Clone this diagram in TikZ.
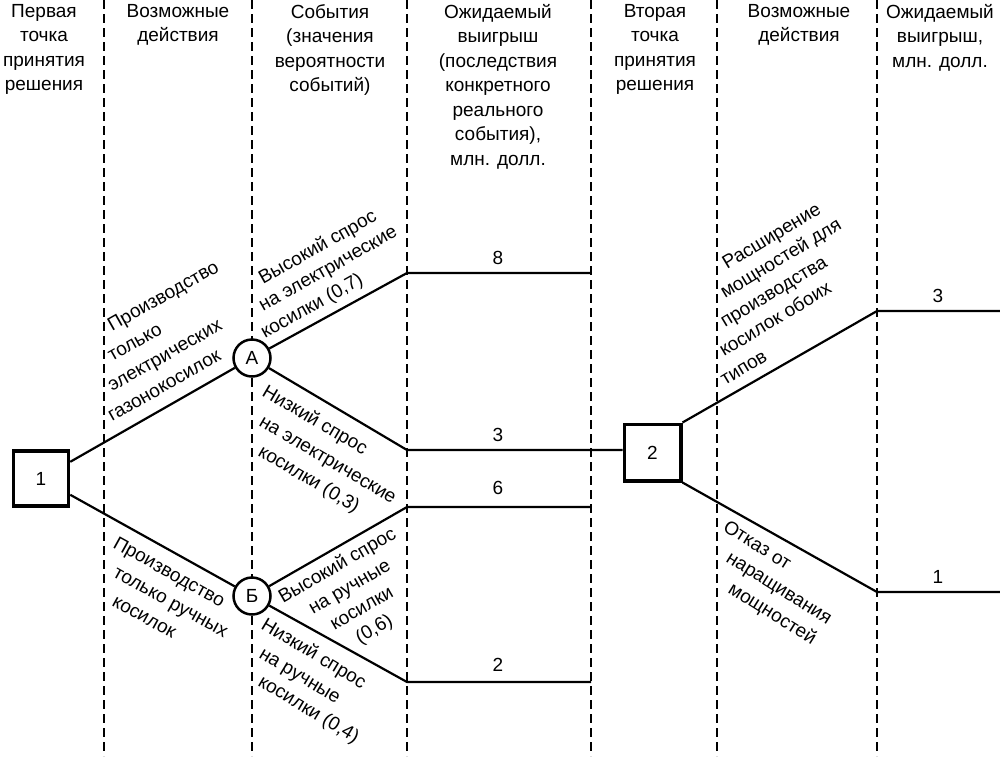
\documentclass[tikz,border=0pt]{standalone}
\usepackage{fontspec}
\setmainfont{Liberation Sans}
\newcommand\hdrfont{\fontsize{19}{24.5}\selectfont}
\tikzset{
  col/.style={line width=2pt, dash pattern=on 9pt off 5pt},
  conn/.style={line width=2.2pt},
  dbox/.style={draw, line width=3.5pt, minimum size=55pt, inner sep=0pt, fill=white, font=\hdrfont},
  chance/.style={draw, circle, line width=2.5pt, minimum size=37pt, inner sep=0pt, fill=white, font=\hdrfont},
  hdr/.style={align=center, anchor=north, inner sep=0pt, font=\hdrfont},
  lbl/.style={inner sep=0pt, font=\hdrfont},
  val/.style={inner sep=0pt, anchor=south, font=\hdrfont}
}
\begin{document}
\begin{tikzpicture}[x=1pt, y=-1pt]
\useasboundingbox (0,0) rectangle (1000,756);
% column separators
\foreach \cx/\nm in {104/c1,252/c2,407/c3,591/c4,717/c5,877/c6}{
  \coordinate (\nm t) at (\cx,0);
  \coordinate (\nm b) at (\cx,756);
  \draw[col] (\nm t) -- (\nm b);
}
% headers
\node[hdr] (h1) at (44,4) {Первая\\точка\\принятия\\решения};
\node[hdr] (h2) at (178,4) {Возможные\\действия};
\node[hdr] (h3) at (330,4) {События\\(значения\\вероятности\\событий)};
\node[hdr] (h4) at (498,4) {Ожидаемый\\выигрыш\\(последствия\\конкретного\\реального\\события),\\млн. долл.};
\node[hdr] (h5) at (655,4) {Вторая\\точка\\принятия\\решения};
\node[hdr] (h6) at (799,4) {Возможные\\действия};
\node[hdr] (h7) at (940,4) {Ожидаемый\\выигрыш,\\млн. долл.};
% nodes
\node[dbox] (n1) at (41,478.5) {1};
\node[chance] (A) at (252,358) {А};
\node[chance] (B) at (252,596) {Б};
\node[dbox, minimum size=56.5pt] (n2) at (652.5,452.5) {2};
% end points
\coordinate (e1) at (407,273);
\coordinate (e1r) at (591,273);
\coordinate (e2) at (407,450);
\coordinate (e3) at (407,507);
\coordinate (e3r) at (591,507);
\coordinate (e4) at (407,682);
\coordinate (e4r) at (591,682);
\coordinate (f1) at (877,311);
\coordinate (f1r) at (1000,311);
\coordinate (f2) at (877,592);
\coordinate (f2r) at (1000,592);
% connectors
\draw[conn] (n1) -- (A);
\draw[conn] (n1) -- (B);
\draw[conn] (A) -- (e1) -- (e1r);
\draw[conn] (A) -- (e2) -- (e2 -| n2.west);
\draw[conn] (B) -- (e3) -- (e3r);
\draw[conn] (B) -- (e4) -- (e4r);
\draw[conn] (n2.north east) -- (f1) -- (f1r);
\draw[conn] (n2.south east) -- (f2) -- (f2r);
% values
\node[val] (v8) at (498,265) {8};
\node[val] (v3) at (498,442) {3};
\node[val] (v6) at (498,495) {6};
\node[val] (v2) at (498,672) {2};
\node[val] (w3) at (938,303) {3};
\node[val] (w1) at (938,584) {1};
% action labels, first decision
\node[lbl, rotate=29.5, anchor=base west] (a1) at (112,332) {Производство};
\node[lbl, rotate=29.5, anchor=base west] (a2) at (112,362) {только};
\node[lbl, rotate=29.5, anchor=base west] (a3) at (112,392) {электрических};
\node[lbl, rotate=29.5, anchor=base west] (a4) at (112,422) {газонокосилок};
\node[lbl, rotate=-29, anchor=base west] (b1) at (112,547) {Производство};
\node[lbl, rotate=-29, anchor=base west] (b2) at (112,576) {только ручных};
\node[lbl, rotate=-29, anchor=base west] (b3) at (111,605) {косилок};
% event labels
\node[lbl, rotate=29.5, anchor=base west] (s1) at (263,285) {Высокий спрос};
\node[lbl, rotate=29.5, anchor=base west] (s2) at (263,312) {на электрические};
\node[lbl, rotate=29.5, anchor=base west] (s3) at (265,339) {косилки (0,7)};
\node[lbl, rotate=-30.5, anchor=base west] (t1) at (261,395) {Низкий спрос};
\node[lbl, rotate=-30.5, anchor=base west] (t2) at (258,425) {на электрические};
\node[lbl, rotate=-30.5, anchor=base west] (t3) at (257,455) {косилки (0,3)};
\node[lbl, rotate=30, align=center] (u1) at (356,598) {Высокий спрос\\на ручные\\косилки\\(0,6)};
\node[lbl, rotate=-31, anchor=base west] (r1) at (260,628) {Низкий спрос};
\node[lbl, rotate=-31, anchor=base west] (r2) at (258,657) {на ручные};
\node[lbl, rotate=-31, anchor=base west] (r3) at (257,685) {косилки (0,4)};
% second decision labels
\node[lbl, rotate=31, anchor=base west] (x1) at (727,270) {Расширение};
\node[lbl, rotate=31, anchor=base west] (x2) at (725,299) {мощностей для};
\node[lbl, rotate=31, anchor=base west] (x3) at (725,328) {производства};
\node[lbl, rotate=31, anchor=base west] (x4) at (724,357) {косилок обоих};
\node[lbl, rotate=31, anchor=base west] (x5) at (725,386) {типов};
\node[lbl, rotate=-32, anchor=base west] (y1) at (722,530) {Отказ от};
\node[lbl, rotate=-32, anchor=base west] (y2) at (725,561) {наращивания};
\node[lbl, rotate=-32, anchor=base west] (y3) at (727,592) {мощностей};
\end{tikzpicture}
\end{document}
